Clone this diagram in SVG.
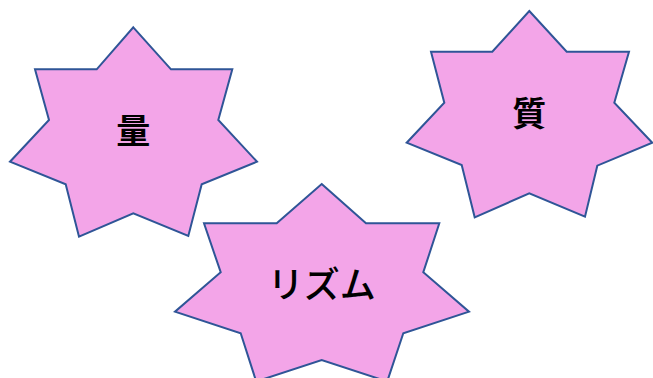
<svg xmlns="http://www.w3.org/2000/svg" width="653" height="378" viewBox="0 0 653 378">
<style>
.star{fill:#F3A5E8;stroke:#2F5597;stroke-width:2;stroke-linejoin:miter}
.lbl{font-family:"Noto Sans CJK JP","Noto Sans",sans-serif;fill:#000;text-anchor:middle;dominant-baseline:central}
</style>
<rect width="653" height="378" fill="#fff"/>
<g id="node-ryo">
<polygon class="star" points="133.3,27.3 171,69.3 232.3,69.3 218.3,120 257,161.7 201.7,184.3 188.3,236 133.3,213.3 79,236.7 65.7,184.3 10,161.7 49,120 35,69.3 96.7,69.3"/>
<text class="lbl" x="133.3" y="128.3" font-size="34" font-weight="bold">量</text>
</g>
<g id="node-shitsu">
<polygon class="star" points="529.3,11 566.7,51.7 629,51.7 614.3,102.7 652.3,142.7 597.3,165.7 585,216.7 529.3,193.3 474.7,217.3 461.7,165 406.7,142.7 444.3,102.7 431,51.7 492.3,51.7"/>
<text class="lbl" x="529.3" y="111.7" font-size="34" font-weight="bold">質</text>
</g>
<g id="node-rhythm">
<polygon class="star" points="321.7,184 366,223.3 439.3,223.3 423.3,272.3 469,311.7 403.3,333.3 387.2,381.5 321.7,360 256.2,381.5 240.7,333.3 175,311.7 220.7,272.3 204,223.3 276.7,223.3"/>
<text class="lbl" x="321.7" y="281.7" font-size="36" font-weight="500">リズム</text>
</g>
<g id="connectors"></g>
</svg>
